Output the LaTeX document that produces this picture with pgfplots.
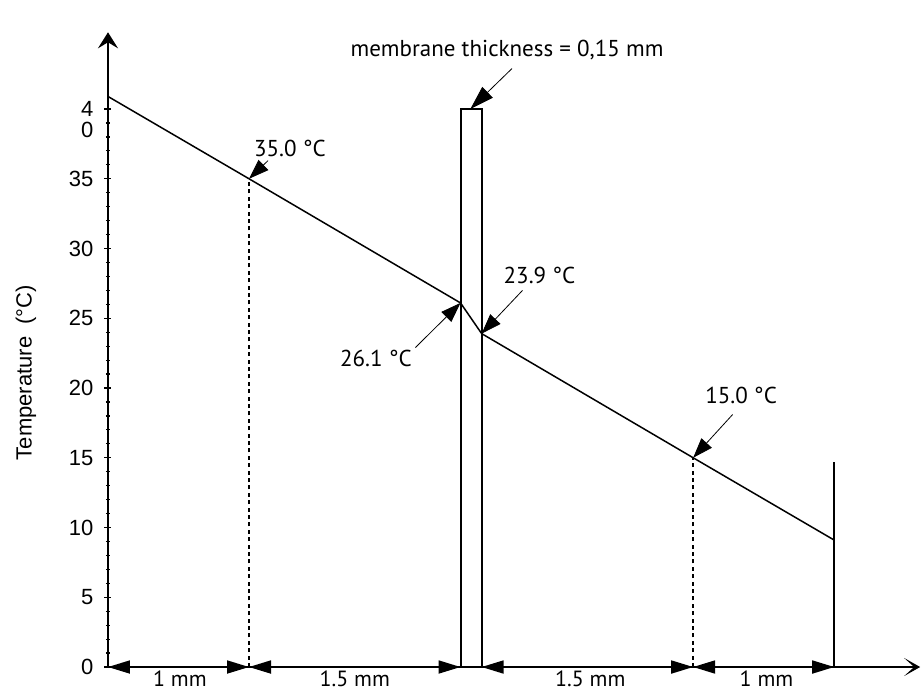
\documentclass[border=0pt]{standalone}
\usepackage{pgfplots}
\pgfplotsset{compat=1.18}
\usetikzlibrary{arrows.meta}
\usepackage{fontspec}
\setmainfont{Liberation Sans}
\newfontfamily\annfont{PT Sans}

\begin{document}
\begin{tikzpicture}[font=\fontsize{10.5}{12}\selectfont]
\begin{axis}[
 anchor=origin, at={(0pt,0pt)},
 x=70.5pt, y=6.975pt,
 xmin=0, xmax=5.76, ymin=0, ymax=45.5,
 axis lines=left,
 x axis line style={line width=0.9pt, -{Stealth[length=8pt,width=9pt,inset=5pt]}},
 y axis line style={line width=0.9pt, -{Stealth[length=8pt,width=10pt,inset=3pt]}},
 xtick=\empty,
 ytick={0,5,...,40},
 yticklabels={0,5,10,15,20,25,30,35,{\raisebox{0pt}[\height][0pt]{4\llap{\raisebox{-10.5pt}{0}}}}},
 minor y tick num=4,
 tick align=center, major tick length=3.5pt, minor tick length=2pt,
 tick style={black, line width=0.6pt},
 /pgf/number format/assume math mode=true,
 yticklabel style={xshift=-2pt, font=\fontsize{11}{12}\selectfont},
 ylabel={Temperature\ \ (°C)},
 ylabel style={at={(axis description cs:-0.101,0.4637)}, anchor=center, font=\fontsize{11}{12}\selectfont},
 clip=false,
]
% temperature profile
\addplot[black, line width=0.75pt] coordinates {(0,40.9)(1,35.0)(2.5,26.1)(2.65,23.9)(4.15,15.0)(5.15,9.1)};
% membrane
\addplot[black, line width=1pt] coordinates {(2.5,0)(2.5,40)(2.65,40)(2.65,0)};
% right boundary
\addplot[black, line width=0.8pt] coordinates {(5.15,0)(5.15,14.7)};
% dashed guides
\addplot[black, line width=0.85pt, dash pattern=on 2pt off 1.7pt] coordinates {(1,0)(1,35)};
\addplot[black, line width=0.85pt, dash pattern=on 2pt off 1.7pt] coordinates {(4.15,0)(4.15,15)};
% dimension arrows
\addplot[black, line width=0.9pt, {Triangle[length=11pt,width=6.5pt]}-{Triangle[length=11pt,width=6.5pt]}] coordinates {(0,0)(1,0)};
\addplot[black, line width=0.9pt, {Triangle[length=11pt,width=6.5pt]}-{Triangle[length=11pt,width=6.5pt]}] coordinates {(1,0)(2.5,0)};
\addplot[black, line width=0.9pt, {Triangle[length=11pt,width=6.5pt]}-{Triangle[length=11pt,width=6.5pt]}] coordinates {(2.65,0)(4.15,0)};
\addplot[black, line width=0.9pt, {Triangle[length=11pt,width=6.5pt]}-{Triangle[length=11pt,width=6.5pt]}] coordinates {(4.15,0)(5.15,0)};
% annotation arrows
\addplot[black, line width=0.4pt, -{Triangle[length=10pt,width=7pt]}] coordinates {(1.135,36.3)(1,35)};
\addplot[black, line width=0.4pt, -{Triangle[length=12pt,width=7.5pt]}] coordinates {(2.865,42.9)(2.57,40)};
\addplot[black, line width=0.4pt, -{Triangle[length=10pt,width=7pt]}] coordinates {(2.94,27.0)(2.65,23.9)};
\addplot[black, line width=0.4pt, -{Triangle[length=10pt,width=7pt]}] coordinates {(2.18,22.9)(2.5,26.1)};
\addplot[black, line width=0.4pt, -{Triangle[length=10pt,width=7pt]}] coordinates {(4.43,18.1)(4.15,15)};
% labels
\begin{scope}[font=\annfont\fontsize{11.5}{13}\selectfont]
\node at (axis cs:1.29,37.2) {35.0 °C};
\node at (axis cs:2.83,44.2) {membrane thickness = 0,15 mm};
\node at (axis cs:3.06,28.1) {23.9 °C};
\node at (axis cs:1.90,22.15) {26.1 °C};
\node at (axis cs:4.49,19.5) {15.0 °C};
\node[font=\annfont\fontsize{11}{12}\selectfont] at (axis cs:0.51,-0.85) {1 mm};
\node[font=\annfont\fontsize{11}{12}\selectfont] at (axis cs:1.75,-0.85) {1.5 mm};
\node[font=\annfont\fontsize{11}{12}\selectfont] at (axis cs:3.42,-0.85) {1.5 mm};
\node[font=\annfont\fontsize{11}{12}\selectfont] at (axis cs:4.67,-0.85) {1 mm};
\end{scope}
\end{axis}
\pgfresetboundingbox
\useasboundingbox (-54pt,-13pt) rectangle (408pt,333.5pt);
\end{tikzpicture}
\end{document}
